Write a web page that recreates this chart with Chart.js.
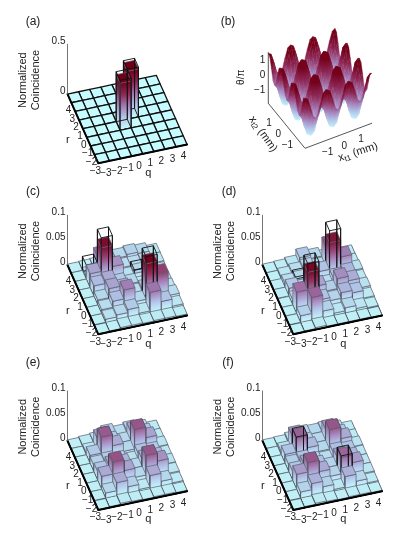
<!DOCTYPE html>
<html>
<head>
<meta charset="utf-8">
<title>Normalized coincidence</title>
<script src="https://cdn.jsdelivr.net/npm/chart.js@4/dist/chart.umd.js"></script>
<style>
  body { margin: 0; background: #fff; width: 399px; height: 533px; overflow: hidden; position: relative; }
  canvas { position: absolute; }
</style>
</head>
<body>
<canvas id="panel-a" width="200" height="180" style="left:0;top:0"></canvas>
<canvas id="panel-b" width="199" height="180" style="left:200px;top:0"></canvas>
<canvas id="panel-c" width="200" height="172" style="left:0;top:180px"></canvas>
<canvas id="panel-d" width="199" height="172" style="left:200px;top:180px"></canvas>
<canvas id="panel-e" width="200" height="181" style="left:0;top:352px"></canvas>
<canvas id="panel-f" width="199" height="181" style="left:200px;top:352px"></canvas>
<script>
// tick labels
const qTicks = ["−3", "−2", "−1", "0", "1", "2", "3", "4"];
const rTicks = ["−3", "−2", "−1", "0", "1", "2", "3", "4"];
const zTicksWide = [0, 0.5];
const zTicksNarrow = [0, 0.05, 0.1];
const xTicksMm = [-1, 0, 1];
const thetaTicks = [-1, 0, 1];

// measured bars, first row is r = 4 (back), columns are q = -3 ... 4
const heightsA = [
  [0, 0, 0, 0, 0, 0, 0, 0],
  [0, 0, 0, 0, 0, 0, 0, 0],
  [0, 0, 0, 0, 0, 0, 0, 0],
  [0, 0, 0, 0, 0.48, 0, 0, 0],
  [0, 0, 0, 0.47, 0, 0, 0, 0],
  [0, 0, 0, 0, 0, 0, 0, 0],
  [0, 0, 0, 0, 0, 0, 0, 0],
  [0, 0, 0, 0, 0, 0, 0, 0],
];
const heightsC = [
  [0.002, 0.003, 0.004, 0.006, 0.012, 0.015, 0.012, 0.006],
  [0.002, 0.008, 0.043, 0.015, 0.01, 0.01, 0.012, 0.006],
  [0.002, 0.03, 0.077, 0.035, 0.008, 0.012, 0.012, 0.004],
  [0.002, 0.023, 0.028, 0.018, 0.012, 0.004, 0.004, 0.004],
  [0.002, 0.012, 0.03, 0.025, 0.01, 0.015, 0.012, 0.006],
  [0.002, 0.01, 0.022, 0.04, 0.012, 0.083, 0.057, 0.01],
  [0.002, 0.008, 0.012, 0.018, 0.006, 0.043, 0.02, 0.006],
  [0.001, 0.002, 0.004, 0.004, 0.003, 0.004, 0.004, 0.003],
];
const heightsD = [
  [0.002, 0.003, 0.006, 0.018, 0.012, 0.006, 0.004, 0.003],
  [0.002, 0.006, 0.01, 0.014, 0.01, 0.05, 0.018, 0.004],
  [0.003, 0.01, 0.012, 0.008, 0.02, 0.073, 0.04, 0.008],
  [0.003, 0.018, 0.012, 0.008, 0.01, 0.02, 0.025, 0.006],
  [0.002, 0.012, 0.025, 0.03, 0.016, 0.036, 0.027, 0.008],
  [0.002, 0.045, 0.08, 0.02, 0.014, 0.025, 0.02, 0.005],
  [0.002, 0.015, 0.047, 0.015, 0.006, 0.012, 0.006, 0.003],
  [0.001, 0.002, 0.004, 0.002, 0.002, 0.002, 0.002, 0.001],
];
const heightsE = [
  [0.002, 0.004, 0.006, 0.016, 0.01, 0.014, 0.01, 0.004],
  [0.002, 0.006, 0.03, 0.018, 0.012, 0.03, 0.02, 0.005],
  [0.002, 0.018, 0.05, 0.028, 0.012, 0.051, 0.03, 0.007],
  [0.002, 0.015, 0.018, 0.014, 0.008, 0.02, 0.018, 0.006],
  [0.002, 0.02, 0.028, 0.025, 0.012, 0.026, 0.024, 0.007],
  [0.002, 0.028, 0.052, 0.03, 0.012, 0.051, 0.035, 0.006],
  [0.002, 0.012, 0.028, 0.015, 0.005, 0.028, 0.012, 0.004],
  [0.001, 0.002, 0.004, 0.003, 0.002, 0.003, 0.003, 0.002],
];
const heightsF = [
  [0.002, 0.003, 0.007, 0.014, 0.012, 0.014, 0.009, 0.003],
  [0.002, 0.008, 0.035, 0.016, 0.012, 0.034, 0.018, 0.004],
  [0.002, 0.02, 0.048, 0.024, 0.012, 0.051, 0.028, 0.007],
  [0.002, 0.016, 0.02, 0.012, 0.01, 0.022, 0.02, 0.006],
  [0.002, 0.02, 0.03, 0.022, 0.014, 0.03, 0.024, 0.006],
  [0.002, 0.032, 0.051, 0.028, 0.014, 0.047, 0.032, 0.006],
  [0.002, 0.014, 0.026, 0.015, 0.005, 0.026, 0.012, 0.004],
  [0.001, 0.002, 0.004, 0.003, 0.002, 0.003, 0.003, 0.002],
];

// ideal bars (black wire frames)
const idealA = [
  [0, 0, 0, 0, 0, 0, 0, 0],
  [0, 0, 0, 0, 0, 0, 0, 0],
  [0, 0, 0, 0, 0, 0, 0, 0],
  [0, 0, 0, 0, 0.5, 0, 0, 0],
  [0, 0, 0, 0.5, 0, 0, 0, 0],
  [0, 0, 0, 0, 0, 0, 0, 0],
  [0, 0, 0, 0, 0, 0, 0, 0],
  [0, 0, 0, 0, 0, 0, 0, 0],
];
const idealC = [
  [0, 0, 0, 0, 0, 0, 0, 0],
  [0, 0.03, 0, 0, 0, 0, 0, 0],
  [0, 0, 0.097, 0, 0, 0.018, 0, 0],
  [0, 0, 0, 0, 0, 0, 0, 0],
  [0, 0, 0, 0, 0, 0, 0, 0],
  [0, 0, 0.015, 0, 0, 0.097, 0, 0],
  [0, 0, 0, 0, 0, 0, 0, 0],
  [0, 0, 0, 0, 0, 0, 0, 0],
];
const idealD = [
  [0, 0, 0, 0, 0, 0, 0, 0],
  [0, 0, 0, 0, 0, 0, 0, 0],
  [0, 0, 0.015, 0, 0, 0.097, 0, 0],
  [0, 0, 0, 0, 0, 0, 0, 0],
  [0, 0, 0, 0, 0, 0, 0, 0],
  [0, 0, 0.097, 0, 0, 0.015, 0, 0],
  [0, 0, 0, 0, 0, 0, 0, 0],
  [0, 0, 0, 0, 0, 0, 0, 0],
];
const idealEF = [
  [0, 0, 0, 0, 0, 0, 0, 0],
  [0, 0, 0, 0, 0, 0, 0, 0],
  [0, 0, 0.05, 0, 0, 0.05, 0, 0],
  [0, 0, 0, 0, 0, 0, 0, 0],
  [0, 0, 0, 0, 0, 0, 0, 0],
  [0, 0, 0.05, 0, 0, 0.05, 0, 0],
  [0, 0, 0, 0, 0, 0, 0, 0],
  [0, 0, 0, 0, 0, 0, 0, 0],
];

// theta/pi surface of panel b
const ridgeRow = [1.45, 1.32, 0.72, 0.02, -0.17, 0.02, 0.72, 1.32, 1.45, 1.32, 0.72, 0.02, -0.17, 0.02, 0.72, 1.32, 1.45, 1.32, 0.72, 0.02, -0.17, 0.02, 0.72, 1.32, 1.45];
const shoulderRow = [1.32, 1.12, 0.42, -0.17, -0.42, -0.17, 0.42, 1.12, 1.32, 1.12, 0.42, -0.17, -0.42, -0.17, 0.42, 1.12, 1.32, 1.12, 0.42, -0.17, -0.42, -0.17, 0.42, 1.12, 1.32];
const middleRow = [0.72, 0.42, -0.17, -0.8, -1.1, -0.8, -0.17, 0.42, 0.72, 0.42, -0.17, -0.8, -1.1, -0.8, -0.17, 0.42, 0.72, 0.42, -0.17, -0.8, -1.1, -0.8, -0.17, 0.42, 0.72];
const slopeRow = [0.02, -0.17, -0.8, -1.45, -1.65, -1.45, -0.8, -0.17, 0.02, -0.17, -0.8, -1.45, -1.65, -1.45, -0.8, -0.17, 0.02, -0.17, -0.8, -1.45, -1.65, -1.45, -0.8, -0.17, 0.02];
const valleyRow = [-0.17, -0.42, -1.1, -1.65, -1.79, -1.65, -1.1, -0.42, -0.17, -0.42, -1.1, -1.65, -1.79, -1.65, -1.1, -0.42, -0.17, -0.42, -1.1, -1.65, -1.79, -1.65, -1.1, -0.42, -0.17];
const thetaSurface = [
  ridgeRow, shoulderRow, middleRow, slopeRow, valleyRow, slopeRow, middleRow, shoulderRow,
  ridgeRow, shoulderRow, middleRow, slopeRow, valleyRow, slopeRow, middleRow, shoulderRow,
  ridgeRow, shoulderRow, middleRow, slopeRow, valleyRow, slopeRow, middleRow, shoulderRow,
  ridgeRow,
];

const colorStops = [
  [0, [198, 252, 255]],
  [0.25, [180, 200, 236]],
  [0.5, [164, 122, 180]],
  [0.75, [142, 38, 84]],
  [1, [115, 0, 25]],
];

const mapColor = (f, shade = 1) => {
  const t = Math.min(1, Math.max(0, f));
  let k = 0;
  while (k < colorStops.length - 2 && t > colorStops[k + 1][0]) k++;
  const [t0, c0] = colorStops[k];
  const [t1, c1] = colorStops[k + 1];
  const m = (t - t0) / (t1 - t0);
  const rgb = c0.map((c, n) => Math.round((c + (c1[n] - c) * m) * shade));
  return `rgb(${rgb[0]},${rgb[1]},${rgb[2]})`;
};

// gradient from height f0 at a to height f1 at a + normal part of (top - a)
const faceFill = (a, b, top, f0, f1, shade) => (context) => {
  const { x, y } = context.chart.scales;
  const ax = x.getPixelForValue(a.x);
  const ay = y.getPixelForValue(a.y);
  if (!Number.isFinite(ax) || !Number.isFinite(ay)) return mapColor(f1, shade);
  const ex = x.getPixelForValue(b.x) - ax;
  const ey = y.getPixelForValue(b.y) - ay;
  const len = Math.hypot(ex, ey) || 1;
  const nx = -ey / len;
  const ny = ex / len;
  const d = nx * (x.getPixelForValue(top.x) - ax) + ny * (y.getPixelForValue(top.y) - ay);
  const gradient = context.chart.ctx.createLinearGradient(ax, ay, ax + nx * d, ay + ny * d);
  for (let s = 0; s <= 4; s++) {
    gradient.addColorStop(s / 4, mapColor(f0 + ((f1 - f0) * s) / 4, shade));
  }
  return gradient;
};

const polygon = (points, fillColor, stroke, width) => ({
  data: [...points, points[0]],
  showLine: true,
  fill: "shape",
  backgroundColor: fillColor,
  borderColor: stroke,
  borderWidth: width,
  pointRadius: 0,
});

const polyline = (points, stroke, width) => ({
  data: points,
  showLine: true,
  fill: false,
  borderColor: stroke,
  borderWidth: width,
  pointRadius: 0,
});

const textPlugin = (items) => ({
  id: "panelText",
  afterDraw(chart) {
    const { ctx, scales } = chart;
    ctx.save();
    ctx.fillStyle = "#222";
    ctx.textBaseline = "middle";
    for (const item of items) {
      const parts = Array.isArray(item.text) ? item.text : [[item.text, item.size || 10, 0]];
      ctx.save();
      ctx.translate(scales.x.getPixelForValue(item.x), scales.y.getPixelForValue(item.y));
      ctx.rotate(((item.angle || 0) * Math.PI) / 180);
      let total = 0;
      for (const [t, size] of parts) {
        ctx.font = `${size}px "Liberation Sans"`;
        total += ctx.measureText(t).width;
      }
      let cursor = item.align === "right" ? -total : -total / 2;
      ctx.textAlign = "left";
      for (const [t, size, drop] of parts) {
        ctx.font = `${size}px "Liberation Sans"`;
        ctx.fillText(t, cursor, drop);
        cursor += ctx.measureText(t).width;
      }
      ctx.restore();
    }
    ctx.restore();
  },
});

const drawPanel = (id, left, top, datasets, items) => {
  const canvas = document.getElementById(id);
  new Chart(canvas, {
    type: "scatter",
    data: { datasets: datasets.reverse() },
    options: {
      responsive: false,
      animation: false,
      events: [],
      layout: { padding: 0, autoPadding: false },
      elements: { point: { radius: 0 }, line: { borderJoinStyle: "round", borderCapStyle: "round" } },
      plugins: { legend: { display: false }, tooltip: { enabled: false } },
      scales: {
        x: { type: "linear", display: false, min: left, max: left + canvas.width },
        y: { type: "linear", display: false, reverse: true, min: top, max: top + canvas.height },
      },
    },
    plugins: [textPlugin(items)],
  });
};

const QX = 11.1, QY = -2.35, RX = -3.85, RY = -8.65, CELLS = 8;

const drawBarPanel = ({ id, left, top, letter, labelX, labelY, frontX, frontY, heights, ideal, zTicks, zTop, colorTop }) => {
  const zPx = 50 / zTop;
  const at = (i, j, z) => ({
    x: frontX + i * QX + j * RX,
    y: frontY + i * QY + j * RY - z * zPx,
  });
  const datasets = [];

  for (let row = 0; row < CELLS; row++) {
    const j = CELLS - 1 - row;
    for (let i = CELLS - 1; i >= 0; i--) {
      const h = heights[row][i];
      const w = ideal[row][i];
      const a = at(i, j, 0);
      const b = at(i + 1, j, 0);
      const c = at(i + 1, j + 1, 0);
      const d = at(i, j + 1, 0);
      const wire = [
        a, b, c, d, a,
        at(i, j, w), at(i + 1, j, w), b, at(i + 1, j, w),
        at(i + 1, j + 1, w), c, at(i + 1, j + 1, w),
        at(i, j + 1, w), d, at(i, j + 1, w), at(i, j, w),
      ];
      datasets.push(polygon([a, b, c, d], mapColor(0), "#111", 1.3));
      if (w > 0 && w <= h) datasets.push(polyline(wire, "#111", 0.9));
      if (h > 0) {
        const f = h / colorTop;
        datasets.push(polygon([a, d, at(i, j + 1, h), at(i, j, h)], faceFill(a, d, at(i, j, h), 0, f, 0.96), "#5c5f6e", 0.7));
        datasets.push(polygon([a, b, at(i + 1, j, h), at(i, j, h)], faceFill(a, b, at(i, j, h), 0, f, 1), "#5c5f6e", 0.7));
        datasets.push(polygon([at(i, j, h), at(i + 1, j, h), at(i + 1, j + 1, h), at(i, j + 1, h)], mapColor(f, 0.97), "#5c5f6e", 0.7));
        datasets.push(polyline([d, a, b], "#111", 1.2));
      }
      if (w > h) datasets.push(polyline(wire, "#111", 0.9));
    }
  }

  // heavier front edges and the height axis
  const backLeft = at(0, CELLS, 0);
  datasets.push(polyline([backLeft, at(0, 0, 0), at(CELLS, 0, 0)], "#000", 2));
  datasets.push(polyline([backLeft, at(0, CELLS, zTop)], "#666", 0.9));

  const items = [
    { text: `(${letter})`, x: labelX, y: labelY, size: 12 },
    { text: "Normalized", x: frontX - 75, y: backLeft.y - 14, angle: -90, size: 11 },
    { text: "Coincidence", x: frontX - 62, y: backLeft.y - 14, angle: -90, size: 11 },
    { text: "q", x: at(4.5, 0, 0).x, y: at(4.5, 0, 0).y + 20, size: 11 },
    { text: "r", x: at(0, 4, 0).x - 15, y: at(0, 4, 0).y + 11, size: 11 },
  ];
  qTicks.forEach((t, i) => {
    const p = at(i + 0.5, 0, 0);
    items.push({ text: t, x: p.x + 2, y: p.y + 11 });
  });
  rTicks.forEach((t, j) => {
    const p = at(0, j + 0.5, 0);
    items.push({ text: t, x: p.x - 1, y: p.y + 12 });
  });
  zTicks.forEach((t) => {
    const p = at(0, CELLS, t);
    items.push({ text: String(t), x: p.x - 2, y: p.y - 3, align: "right" });
  });
  drawPanel(id, left, top, datasets, items);
};

const drawSurfacePanel = () => {
  const fx = 305, fy = 148.3;
  const n = thetaSurface.length - 1;
  const zFloor = -1.89, zPx = 15;
  const at = (i, j, z) => ({
    x: fx + (i / n) * 66.7 - (j / n) * 36.7,
    y: fy - (i / n) * 25 - (j / n) * 45 - (z - zFloor) * zPx,
  });
  const level = (z) => (z - zFloor) / 3;
  const datasets = [];

  const floorBack = at(0, n, zFloor);
  datasets.push(polyline([floorBack, at(0, n, 1.5)], "#444", 0.9));
  datasets.push(polyline([floorBack, at(0, 0, zFloor), at(n, 0, zFloor)], "#444", 0.9));

  for (let j = n - 1; j >= 0; j--) {
    for (let i = n - 1; i >= 0; i--) {
      const zs = [thetaSurface[j][i], thetaSurface[j][i + 1], thetaSurface[j + 1][i + 1], thetaSurface[j + 1][i]];
      const pts = [at(i, j, zs[0]), at(i + 1, j, zs[1]), at(i + 1, j + 1, zs[2]), at(i, j + 1, zs[3])];
      const zMin = Math.min(...zs);
      const zMax = Math.max(...zs);
      const yMin = Math.min(...pts.map((p) => p.y));
      const yMax = Math.max(...pts.map((p) => p.y));
      const lowPoint = { x: pts[0].x, y: yMax };
      const highPoint = { x: pts[0].x, y: yMin };
      const sidePoint = { x: pts[0].x + 1, y: yMax };
      const shaded = faceFill(lowPoint, sidePoint, highPoint, level(zMin), level(zMax), 1);
      datasets.push(polygon(pts, shaded, shaded, 0.4));
    }
  }

  const items = [
    { text: "(b)", x: 228, y: 22, size: 12 },
    { text: "θ/π", x: 241.7, y: 77.3, angle: -90, size: 10 },
    { text: [["x", 11, 0], ["t2", 8, 3], [" (mm)", 11, 0]], x: 263, y: 134, angle: 55 },
    { text: [["x", 11, 0], ["t1", 8, 3], [" (mm)", 11, 0]], x: 358, y: 152, angle: -18 },
  ];
  xTicksMm.forEach((t) => {
    const u = ((t + 2) / 4) * n;
    const px = at(u, 0, zFloor);
    items.push({ text: String(t).replace("-", "−"), x: px.x + 6, y: px.y + 10 });
    const py = at(0, u, zFloor);
    items.push({ text: String(t).replace("-", "−"), x: py.x - 8.4, y: py.y + 8.5 });
  });
  thetaTicks.forEach((t) => {
    const p = at(0, n, t);
    items.push({ text: String(t).replace("-", "−"), x: p.x - 3, y: p.y, align: "right" });
  });
  drawPanel("panel-b", 200, 0, datasets, items);
};

const narrow = { zTicks: zTicksNarrow, zTop: 0.1, colorTop: 0.085 };
drawBarPanel({ id: "panel-a", left: 0, top: 0, letter: "a", labelX: 33, labelY: 22, frontX: 98.3, frontY: 163.3, heights: heightsA, ideal: idealA, zTicks: zTicksWide, zTop: 0.5, colorTop: 0.47 });
drawSurfacePanel();
drawBarPanel({ id: "panel-c", left: 0, top: 180, letter: "c", labelX: 33, labelY: 192, frontX: 98.3, frontY: 334.3, heights: heightsC, ideal: idealC, ...narrow });
drawBarPanel({ id: "panel-d", left: 200, top: 180, letter: "d", labelX: 229, labelY: 192, frontX: 293.3, frontY: 334.3, heights: heightsD, ideal: idealD, ...narrow });
drawBarPanel({ id: "panel-e", left: 0, top: 352, letter: "e", labelX: 33, labelY: 363, frontX: 98.3, frontY: 510, heights: heightsE, ideal: idealEF, ...narrow });
drawBarPanel({ id: "panel-f", left: 200, top: 352, letter: "f", labelX: 228, labelY: 363, frontX: 293.3, frontY: 510, heights: heightsF, ideal: idealEF, ...narrow });
</script>
</body>
</html>
